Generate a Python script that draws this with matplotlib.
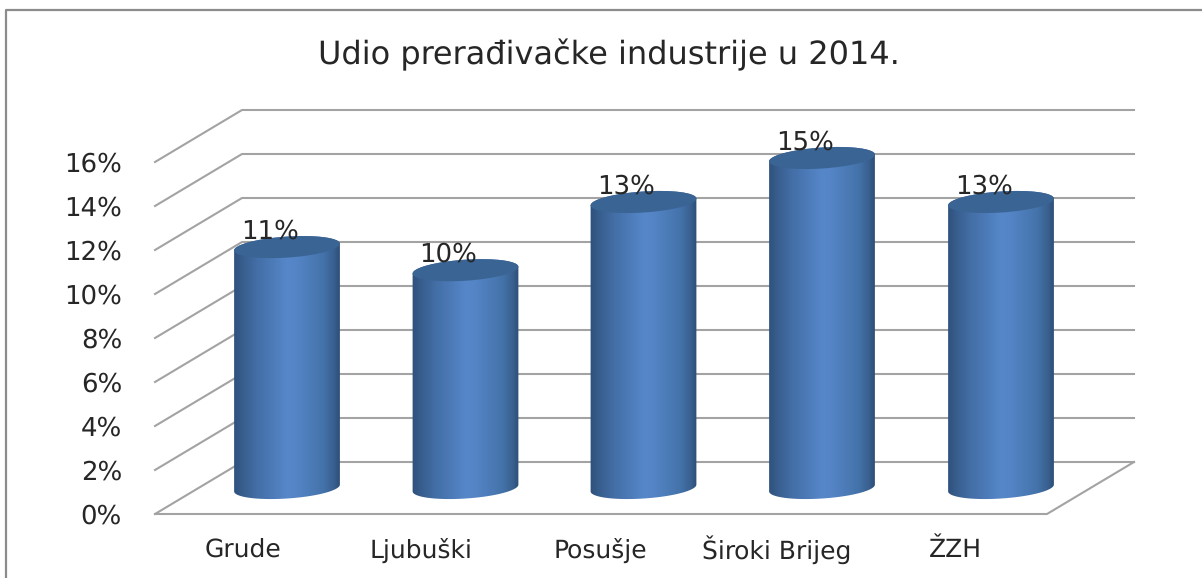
import matplotlib

matplotlib.use("Agg")
import matplotlib.pyplot as plt
import numpy as np
from matplotlib.patches import Ellipse, PathPatch
from matplotlib.path import Path

plt.rcParams["text.hinting"] = "none"
plt.rcParams["text.hinting_factor"] = 1

CATEGORIES = ["Grude", "Ljubuški", "Posušje", "Široki Brijeg", "ŽZH"]
VALUES = [10.95, 9.9, 13.0, 15.0, 13.0]
VALUE_LABELS = ["11%", "10%", "13%", "15%", "13%"]
Y_TICKS = [0, 2, 4, 6, 8, 10, 12, 14, 16]

W, H = 1202, 578
FRONT_X0, FRONT_X1, FRONT_Y0 = 155, 1047, 514
BACK_DX, BACK_DY = 87, 52
PX_PER_UNIT = 22.0
BAR_CENTERS = [287, 465.5, 643.5, 822, 1001]
BAR_HALF_W = 53
BAR_BASE_Y = 488
ELLIPSE_H = 21
TILT = -3.8

GRID = "#a3a3a3"
TEXT = "#262626"


def rim_points(cx, cy, a0, a1):
    # points on the tilted rim ellipse, angle in degrees
    a = np.radians(np.linspace(a0, a1, 60))
    ex, ey = BAR_HALF_W * np.cos(a), ELLIPSE_H / 2 * np.sin(a)
    th = np.radians(TILT)
    return np.column_stack([cx + ex * np.cos(th) - ey * np.sin(th),
                            cy + ex * np.sin(th) + ey * np.cos(th)])


def cylinder(ax, cx, value):
    top = BAR_BASE_Y - value * PX_PER_UNIT
    left, right = cx - BAR_HALF_W, cx + BAR_HALF_W
    # body outline: down the left side, along the front of the base, up the right
    bottom = rim_points(cx, BAR_BASE_Y, 180, 0)
    upper = rim_points(cx, top, 0, -180)
    verts = np.vstack([upper, bottom, upper[:1]])
    clip = PathPatch(Path(verts), facecolor="none", edgecolor="none", transform=ax.transData)
    ax.add_patch(clip)

    # horizontal shading: dark edges, bright middle
    t = np.linspace(0, 1, 256)
    stops = [0.0, 0.08, 0.22, 0.5, 0.58, 0.84, 0.94, 1.0]
    shades = [
        (0x2e, 0x50, 0x7c),
        (0x37, 0x5d, 0x8c),
        (0x43, 0x6e, 0xa6),
        (0x56, 0x87, 0xc9),
        (0x55, 0x85, 0xc6),
        (0x44, 0x73, 0xaa),
        (0x38, 0x5f, 0x8e),
        (0x2b, 0x4a, 0x72),
    ]
    grad = np.stack([np.interp(t, stops, [c[i] for c in shades]) for i in range(3)], axis=-1) / 255
    im = ax.imshow(grad[np.newaxis, :, :], extent=(left - 1, right + 1, BAR_BASE_Y + 14, top - 14),
                   aspect="auto", zorder=3, interpolation="bilinear")
    im.set_clip_path(clip)

    ax.add_patch(Ellipse((cx, top), 2 * BAR_HALF_W, ELLIPSE_H, angle=TILT,
                         facecolor="#3a6494", edgecolor="none", zorder=4))


fig = plt.figure(figsize=(W / 100, H / 100), dpi=100, facecolor="white")
ax = fig.add_axes((0, 0, 1, 1))

# outer chart frame, only left and top are inside the crop
ax.plot([6, 6, W], [H, 10, 10], color="#8c8c8c", lw=1.6, zorder=1)

for v in Y_TICKS:
    y = FRONT_Y0 - v * PX_PER_UNIT
    ax.plot([FRONT_X0, FRONT_X0 + BACK_DX, FRONT_X1 + BACK_DX],
            [y, y - BACK_DY, y - BACK_DY], color=GRID, lw=1.5, zorder=2)
    ax.text(122, y + 2.5, f"{v}%", ha="right", va="center", fontsize=18.5, color=TEXT)

# floor
ax.plot([FRONT_X0, FRONT_X1, FRONT_X1 + BACK_DX],
        [FRONT_Y0, FRONT_Y0, FRONT_Y0 - BACK_DY], color=GRID, lw=1.5, zorder=2)

for cx, val, lab in zip(BAR_CENTERS, VALUES, VALUE_LABELS):
    cylinder(ax, cx, val)
    ax.text(cx - 17, BAR_BASE_Y - val * PX_PER_UNIT - 16, lab, ha="center", va="center",
            fontsize=18.5, color=TEXT, zorder=5)

LABEL_X = [243, 421, 600, 777, 955]
for x, cat in zip(LABEL_X, CATEGORIES):
    ax.text(x, 550, cat, ha="center", va="center", fontsize=18, color=TEXT)

ax.text(609, 55, "Udio prerađivačke industrije u 2014.", ha="center", va="center",
        fontsize=23.2, color=TEXT)

ax.set_xlim(0, W)
ax.set_ylim(H, 0)
ax.axis("off")

fig.savefig("out.png", dpi=100)
